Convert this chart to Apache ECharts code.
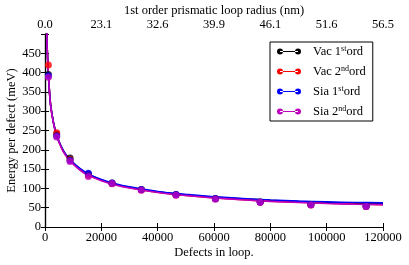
<!DOCTYPE html>
<html><head><meta charset="utf-8">
<script src="https://cdn.jsdelivr.net/npm/echarts@6/dist/echarts.min.js"></script>
<style>html,body{margin:0;padding:0;background:#fff}#c{width:409px;height:265px}</style>
</head><body><div id="c"></div>
<script>
const seriesNames = ['Vac 1st ord', 'Vac 2nd ord', 'Sia 1st ord', 'Sia 2nd ord'];
const legendRich = ['Vac 1{s|st}ord', 'Vac 2{s|nd}ord', 'Sia 1{s|st}ord', 'Sia 2{s|nd}ord'];
const colors = ['#000000', '#ff0000', '#0000ff', '#bf00bf'];
const defects = [1200, 4150, 8900, 15400, 23800, 34200, 46500, 60500, 76400, 94400, 114000];
const vac1 = [395, 240, 179, 137, 114, 97, 84, 74, 65, 58, 54];
const vac2 = [420, 244, 174, 134, 112, 96, 83, 73, 64, 57, 53];
const sia1 = [392, 236, 172, 139, 114, 97, 84, 74, 65, 58, 54];
const sia2 = [388, 233, 170, 131, 113, 95, 82, 72, 64, 57, 53];
const fitN = [500, 700, 1000, 1500, 2000, 3000, 4000, 5000, 6500, 8000, 10000, 12500, 15000, 20000, 25000, 30000, 40000, 50000, 60000, 70000, 80000, 90000, 100000, 110000, 120000];
const fitVac1 = [545, 480, 425, 360, 316, 271, 241, 221, 198, 182, 166, 150, 138, 122, 111, 103, 91, 83, 77.5, 73, 69, 66, 63.5, 61.5, 60.5];
const fitVac2 = [548, 482, 426, 360, 315, 270, 240, 220, 196, 180, 164, 148, 136, 121, 110, 102, 90, 82, 76, 71, 67, 64, 61.5, 59.5, 58];
const fitSia1 = [545, 480, 425, 360, 316, 271, 241, 221, 198, 182, 166, 151, 139, 123, 112, 104, 92, 84.5, 78.5, 74, 70, 67, 65, 63.5, 62.5];
const fitSia2 = [545, 479, 424, 359, 314, 269, 239, 219, 195, 179, 163, 147, 135, 120, 109, 101, 89.5, 81.5, 75.5, 70.5, 66.5, 63.5, 61, 59, 57.5];
const xTicks = [0, 20000, 40000, 60000, 80000, 100000, 120000];
const radiusLabels = ['0.0', '23.1', '32.6', '39.9', '46.1', '51.6', '56.5'];

const pts = [vac1, vac2, sia1, sia2];
const fits = [fitVac1, fitVac2, fitSia1, fitSia2];
const zip = (xs, ys) => xs.map((x, i) => [x, ys[i]]);
const font = 'Liberation Serif';
const icon = 'path://M0,4a3,3 0 1,0 6,0a3,3 0 1,0 -6,0ZM3,3.4H21V4.6H3ZM18,4a3,3 0 1,0 6,0a3,3 0 1,0 -6,0Z';

const series = [];
for (let i = 0; i < 4; i++) {
  series.push({
    name: seriesNames[i], type: 'line', data: zip(fitN, fits[i]), showSymbol: false,
    smooth: 0.3, clip: true, lineStyle: { color: colors[i], width: 1.6 }, itemStyle: { color: colors[i] },
    z: 2, animation: false
  });
}
for (let i = 0; i < 4; i++) {
  series.push({
    name: seriesNames[i], type: 'scatter', data: zip(defects, pts[i]), symbol: 'circle', symbolSize: 7,
    itemStyle: { color: colors[i] }, z: 3, animation: false
  });
}

const chart = echarts.init(document.getElementById('c'));
chart.setOption({
  animation: false,
  textStyle: { fontFamily: font },
  grid: { left: 45, right: 26, top: 34, bottom: 38, containLabel: false, outerBoundsMode: 'none' },
  xAxis: [{
    type: 'value', position: 'bottom', min: 0, max: 120000, interval: 20000,
    name: 'Defects in loop.', nameLocation: 'middle', nameGap: 19, nameMoveOverlap: false,
    nameTextStyle: { fontFamily: font, fontSize: 12.5, color: '#000' },
    axisLine: { show: true, lineStyle: { color: '#000', width: 1.2 } },
    axisTick: { show: true, inside: true, length: 4, lineStyle: { color: '#000' } },
    axisLabel: { fontFamily: font, fontSize: 12.5, color: '#000', margin: 4, formatter: v => String(v) },
    splitLine: { show: false }
  }, {
    type: 'value', position: 'top', min: 0, max: 120000, interval: 20000,
    name: '1st order prismatic loop radius (nm)', nameLocation: 'middle', nameGap: 17, nameMoveOverlap: false,
    nameTextStyle: { fontFamily: font, fontSize: 12.5, color: '#000' },
    axisLine: { show: true, lineStyle: { color: '#000', width: 1.2 } },
    axisTick: { show: true, inside: true, length: 4, lineStyle: { color: '#000' } },
    axisLabel: { fontFamily: font, fontSize: 12.5, color: '#000', margin: 3,
      formatter: v => radiusLabels[xTicks.indexOf(v)] },
    splitLine: { show: false }
  }],
  yAxis: [{
    type: 'value', position: 'left', min: 0, max: 500, interval: 50,
    name: 'Energy per defect (meV)', nameLocation: 'middle', nameGap: 27, nameMoveOverlap: false,
    nameTextStyle: { fontFamily: font, fontSize: 12.5, color: '#000' },
    axisLine: { show: true, lineStyle: { color: '#000', width: 1.2 } },
    axisTick: { show: true, inside: true, length: 4, lineStyle: { color: '#000' } },
    axisLabel: { fontFamily: font, fontSize: 12.5, color: '#000', margin: 4, formatter: v => v === 500 ? '' : String(v) },
    splitLine: { show: false }
  }, {
    type: 'value', position: 'right', min: 0, max: 500, interval: 50,
    axisLine: { show: true, lineStyle: { color: '#000', width: 1.2 } },
    axisTick: { show: true, inside: true, length: 4, lineStyle: { color: '#000' } },
    axisLabel: { show: false }, splitLine: { show: false }
  }],
  legend: {
    orient: 'vertical', left: 270, top: 42, itemWidth: 24, itemHeight: 8, itemGap: 7,
    padding: [3, 7, 3, 7], borderColor: '#000', borderWidth: 1, backgroundColor: '#fff', borderRadius: 0,
    data: seriesNames.map((n, i) => ({ name: n, icon: icon, itemStyle: { color: colors[i] } })),
    formatter: n => legendRich[seriesNames.indexOf(n)],
    textStyle: { fontFamily: font, fontSize: 12.5, color: '#000', padding: [0, 0, 0, 7],
      rich: { s: { fontFamily: font, fontSize: 8, verticalAlign: 'top', padding: [0, 0, 5, 0] } } }
  },
  series: series
});
</script></body></html>
